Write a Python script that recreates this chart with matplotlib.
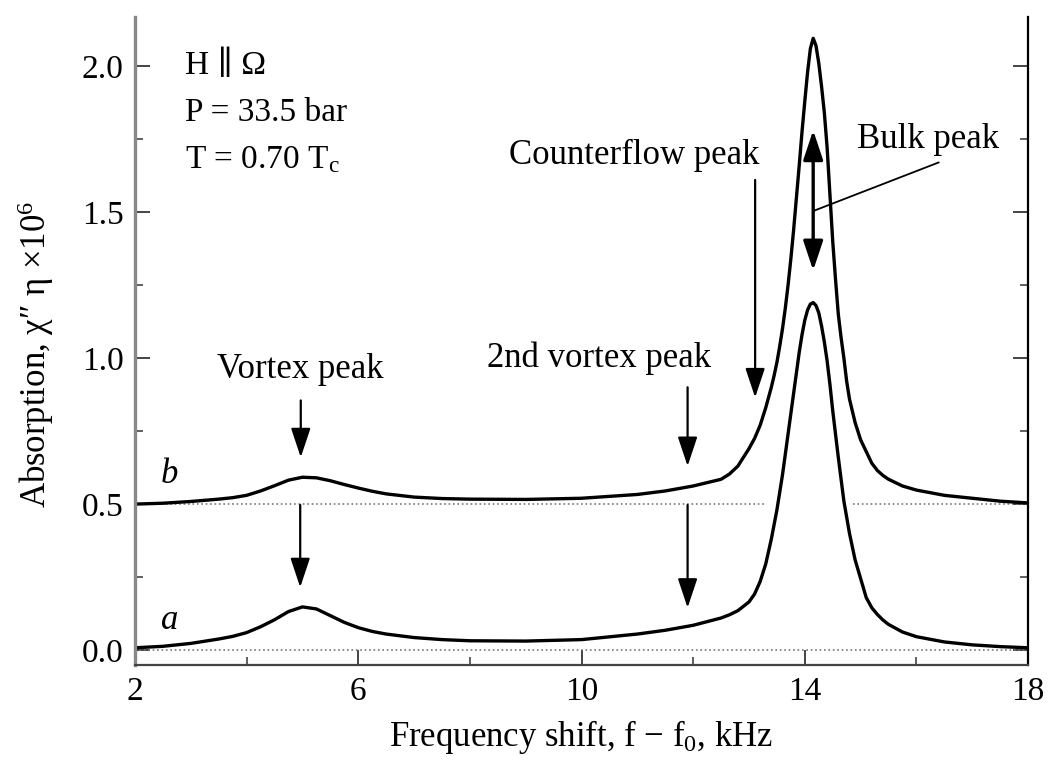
import matplotlib
matplotlib.use('Agg')
import matplotlib.pyplot as plt
from matplotlib.ticker import MultipleLocator, FormatStrFormatter

plt.rcParams['font.family'] = ['Liberation Serif', 'DejaVu Serif']
plt.rcParams['mathtext.fontset'] = 'custom'
plt.rcParams['mathtext.rm'] = 'Liberation Serif'
plt.rcParams['mathtext.it'] = 'Liberation Serif:italic'

# frequency points (kHz)
xs = [2.0, 2.5, 3.0, 3.5, 3.75, 4.0, 4.25, 4.5, 4.75, 5.0, 5.25, 5.5, 5.75, 6.0,
      6.25, 6.5, 7.0, 7.5, 8.0, 9.0, 10.0, 11.0, 11.5, 12.0, 12.5, 12.65, 12.8,
      13.0, 13.1, 13.2, 13.3, 13.4, 13.45, 13.5, 13.55, 13.6, 13.65, 13.7, 13.75,
      13.8, 13.85, 13.9, 13.95, 14.0, 14.05, 14.1, 14.15, 14.2, 14.25, 14.3, 14.35,
      14.4, 14.45, 14.5, 14.55, 14.6, 14.65, 14.7, 14.75, 14.8, 14.9, 15.0, 15.1,
      15.2, 15.3, 15.4, 15.5, 15.75, 16.0, 16.5, 17.0, 17.5, 18.0]

# curve a
ya = [0.008, 0.013, 0.023, 0.038, 0.047, 0.060, 0.080, 0.104, 0.132, 0.148, 0.141,
      0.118, 0.095, 0.077, 0.064, 0.055, 0.043, 0.036, 0.032, 0.031, 0.036, 0.055,
      0.068, 0.085, 0.110, 0.121, 0.135, 0.165, 0.192, 0.235, 0.295, 0.380, 0.430,
      0.480, 0.540, 0.600, 0.670, 0.740, 0.810, 0.880, 0.950, 1.020, 1.080, 1.130,
      1.165, 1.185, 1.190, 1.180, 1.155, 1.110, 1.055, 0.990, 0.910, 0.820, 0.740,
      0.660, 0.585, 0.510, 0.455, 0.400, 0.310, 0.245, 0.180, 0.145, 0.122, 0.103,
      0.088, 0.062, 0.046, 0.028, 0.018, 0.012, 0.008]

# curve b
yb = [0.500, 0.503, 0.509, 0.517, 0.522, 0.530, 0.545, 0.563, 0.582, 0.592, 0.590,
      0.580, 0.567, 0.555, 0.544, 0.535, 0.524, 0.519, 0.517, 0.516, 0.520, 0.533,
      0.545, 0.562, 0.585, 0.603, 0.630, 0.690, 0.725, 0.770, 0.830, 0.900, 0.940,
      0.985, 1.040, 1.100, 1.170, 1.250, 1.340, 1.440, 1.550, 1.660, 1.775, 1.880,
      1.980, 2.060, 2.095, 2.070, 2.010, 1.930, 1.840, 1.720, 1.560, 1.400, 1.270,
      1.150, 1.070, 1.000, 0.920, 0.860, 0.780, 0.720, 0.680, 0.640, 0.615, 0.598,
      0.585, 0.562, 0.548, 0.530, 0.520, 0.510, 0.504]

params = ['H \u2225 \u03a9', 'P = 33.5 bar', 'T = 0.70 T$_\\mathrm{c}$']

fig = plt.figure(figsize=(10.48, 7.65), dpi=100)
ax = fig.add_axes([0.1288, 0.1307, 0.8522, 0.8471])

# dotted baselines
ax.plot([2, 18], [0, 0], ls=':', color='#777777', lw=1.2)
ax.plot([2, 13.3], [0.5, 0.5], ls=':', color='#777777', lw=1.2)
ax.plot([14.87, 18], [0.5, 0.5], ls=':', color='#777777', lw=1.2)

ax.plot(xs, ya, color='black', lw=2.4, solid_joinstyle='round')
ax.plot(xs, yb, color='black', lw=2.4, solid_joinstyle='round')

ax.set_xlim(2, 18)
ax.set_ylim(-0.051, 2.168)
ax.set_xticks([2, 6, 10, 14, 18])
ax.xaxis.set_minor_locator(MultipleLocator(2))
ax.yaxis.set_major_locator(MultipleLocator(0.5))
ax.yaxis.set_minor_locator(MultipleLocator(0.25))
ax.yaxis.set_major_formatter(FormatStrFormatter('%.1f'))
ax.tick_params(which='both', direction='in', right=True, top=False, labelsize=24,
               pad=8, color='#444444')
ax.tick_params(which='major', length=11, width=1.4)
ax.tick_params(which='minor', length=6, width=1.2)

ax.spines['top'].set_visible(False)
ax.spines['left'].set_color('#888888')
ax.spines['left'].set_linewidth(2.4)
ax.spines['bottom'].set_color('#444444')
ax.spines['bottom'].set_linewidth(1.6)
ax.spines['right'].set_linewidth(1.6)

ax.set_xlabel('Frequency shift, f \u2212 f$_0$, kHz', fontsize=25, labelpad=8)
ax.set_ylabel('Absorption, \u03c7\u2033 \u03b7 \u00d710$^6$', fontsize=25)
ax.yaxis.set_label_coords(-0.088, 0.48)

# parameters
for i, s in enumerate(params):
    ax.text(2.9, 2.0 - i * 0.16, s, fontsize=24, va='center', ha='left')

ax.text(2.62, 0.60, 'b', fontsize=25, style='italic', ha='center', va='center')
ax.text(2.62, 0.10, 'a', fontsize=25, style='italic', ha='center', va='center')

arrow = dict(arrowstyle='-|>,head_length=0.9,head_width=0.3', color='black',
             lw=1.6, shrinkA=0, shrinkB=0, mutation_scale=20)

# vortex peak
ax.text(4.96, 0.96, 'Vortex peak', fontsize=25, ha='center', va='center')
ax.annotate('', xy=(4.97, 0.66), xytext=(4.97, 0.855), arrowprops=arrow)
ax.annotate('', xy=(4.96, 0.215), xytext=(4.96, 0.497), arrowprops=arrow)

# 2nd vortex peak
ax.text(10.32, 1.0, '2nd vortex peak', fontsize=25, ha='center', va='center')
ax.annotate('', xy=(11.9, 0.63), xytext=(11.9, 0.90), arrowprops=arrow)
ax.annotate('', xy=(11.9, 0.145), xytext=(11.9, 0.497), arrowprops=arrow)

# counterflow peak
ax.text(10.94, 1.695, 'Counterflow peak', fontsize=25, ha='center', va='center')
ax.annotate('', xy=(13.11, 0.865), xytext=(13.11, 1.61), arrowprops=arrow)

# bulk peak
ax.text(16.2, 1.75, 'Bulk peak', fontsize=25, ha='center', va='center')
ax.annotate('', xy=(14.15, 1.78), xytext=(14.15, 1.30),
            arrowprops=dict(arrowstyle='<|-|>,head_length=0.9,head_width=0.3',
                            color='black', lw=2.4, shrinkA=0, shrinkB=0,
                            mutation_scale=20))
ax.annotate('', xy=(14.17, 1.505), xytext=(16.4, 1.67),
            arrowprops=dict(arrowstyle='-', color='black', lw=1.3,
                            shrinkA=0, shrinkB=0))

fig.savefig('out.png', dpi=100)
